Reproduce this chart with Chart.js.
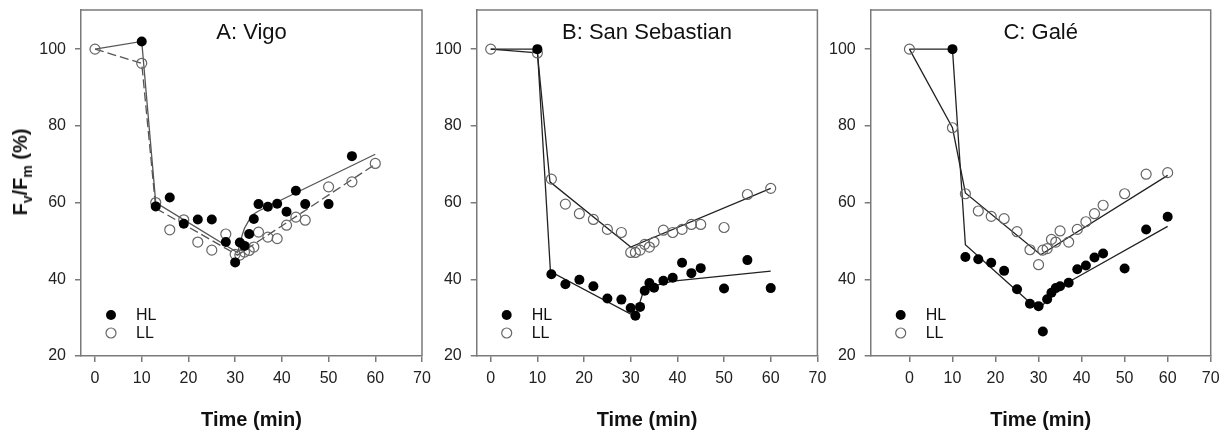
<!DOCTYPE html>
<html>
<head>
<meta charset="utf-8">
<title>Fv/Fm time course</title>
<script src="https://cdn.jsdelivr.net/npm/chart.js@4.4.0/dist/chart.umd.min.js"></script>
<style>
body { margin: 0; background: #fff; width: 1226px; height: 437px; position: relative; overflow: hidden; font-family: "Liberation Sans", Arial, sans-serif; }
canvas { position: absolute; top: 0; }
#ytitle { position: absolute; left: 22px; top: 172px; transform: translate(-50%, -50%) rotate(-90deg); font-weight: bold; font-size: 20px; white-space: nowrap; color: #111; }
#ytitle sub { font-size: 14px; }
</style>
</head>
<body>
<canvas id="chartA" width="440" height="437" style="left:0px"></canvas>
<canvas id="chartB" width="405" height="437" style="left:425px"></canvas>
<canvas id="chartC" width="411" height="437" style="left:815px"></canvas>
<div id="ytitle">F<sub>v</sub>/F<sub>m</sub> (%)</div>
<script>
// sampling times (min), shared by all three sites
var time = [0, 10, 13, 16, 19, 22, 25, 28, 30, 31, 32, 33, 34, 35, 37, 39, 41, 43, 45, 50, 55, 60];

var xTicks = [0, 10, 20, 30, 40, 50, 60, 70];
var yTicks = [20, 40, 60, 80, 100];
var legendLabels = ['HL', 'LL'];

// A: Vigo
var vigoHL = [null, 102, 59, 61.3, 54.5, 55.6, 55.6, 49.7, 44.4, 49.6, 48.7, 51.8, 55.7, 59.6, 58.9, 59.7, 57.6, 63.1, 59.6, 59.6, 72.1, null];
var vigoLL = [100, 96.3, 60, 52.9, 55.5, 49.7, 47.6, 51.8, 46.5, 46.3, 47.1, 47.5, 48.4, 52.3, 51, 50.6, 54.1, 56.2, 55.4, 64.1, 65.4, 70.2];
var vigoFitTimeHL = [0, 10, 13, 30.5, 31, 31.5, 32, 33, 34, 35, 60];
var vigoFitHL = [100, 102, 60, 47, 49, 51.5, 53.3, 55.5, 57, 57.8, 72.6];
var vigoFitTimeLL = [0, 10, 13, 30.5, 60];
var vigoFitLL = [100, 96.3, 58.5, 46.3, 70];

// B: San Sebastian
var sebHL = [null, 100, 41.3, 38.7, 39.9, 38.2, 35, 34.7, 32.5, 30.5, 32.8, 37, 39, 37.8, 39.6, 40.4, 44.3, 41.6, 42.9, 37.6, 45, 37.7];
var sebLL = [100, 99, 66.1, 59.6, 57.1, 55.6, 53, 52.2, 47, 47, 47.6, 49.1, 48.4, 49.7, 52.8, 52.2, 53, 54.3, 54.3, 53.5, 62.1, 63.7];
var sebFitTimeHL = [0, 10, 12.8, 31, 32.5, 35, 39, 60];
var sebFitHL = [100, 100, 42, 30.3, 36, 38.3, 39.5, 42.1];
var sebFitTimeLL = [0, 10, 12.7, 30, 60];
var sebFitLL = [100, 99, 65.4, 48.4, 63.7];

// C: Gale
var galeHL = [null, 100, 45.8, 45.2, 44.3, 42.2, 37.4, 33.6, 33, 26.4, 34.8, 36.5, 37.7, 38.2, 39.1, 42.6, 43.6, 45.7, 46.7, 42.8, 53, 56.3];
var galeLL = [100, 79.5, 62.3, 57.8, 56.4, 55.8, 52.4, 47.7, 43.8, 47.6, 48, 50.4, 49.7, 52.6, 49.7, 53, 55, 57.1, 59.3, 62.3, 67.4, 67.8];
var galeFitTimeHL = [0, 10, 13, 30, 33, 35, 37, 60];
var galeFitHL = [100, 100, 49, 31.9, 36, 38, 39.3, 53.8];
var galeFitTimeLL = [0, 10, 13, 30.5, 60];
var galeFitLL = [100, 79.5, 62.5, 46.4, 67.1];

var FONT = '"Liberation Sans", Arial, sans-serif';
Chart.defaults.font.family = FONT;
Chart.defaults.color = '#222';

function pairs(xs, ys) {
    var out = [];
    for (var i in xs) {
        out.push({x: xs[i], y: ys[i]});
    }
    return out;
}

// frame on top/right, panel title and the little HL/LL key
var panelDecor = {
    id: 'panelDecor',
    afterDraw: function(chart, args, opts) {
        var ctx = chart.ctx;
        var a = chart.chartArea;
        ctx.save();
        ctx.strokeStyle = '#7a7a7a';
        ctx.lineWidth = 1.5;
        ctx.beginPath();
        ctx.moveTo(a.left, a.top);
        ctx.lineTo(a.right, a.top);
        ctx.lineTo(a.right, a.bottom);
        ctx.stroke();

        ctx.fillStyle = '#111';
        ctx.font = '22px ' + FONT;
        ctx.textAlign = 'center';
        ctx.textBaseline = 'middle';
        ctx.fillText(opts.title, (a.left + a.right) / 2, 33);

        var lx = a.left + 30;
        var ly = [315, 333];
        ctx.font = '16px ' + FONT;
        ctx.textAlign = 'left';
        for (var i = 0; i < 2; i++) {
            ctx.beginPath();
            ctx.arc(lx, ly[i], 5, 0, Math.PI * 2);
            if (i == 0) {
                ctx.fillStyle = '#000';
                ctx.fill();
            } else {
                ctx.strokeStyle = '#666';
                ctx.lineWidth = 1.2;
                ctx.stroke();
            }
            ctx.fillStyle = '#111';
            ctx.fillText(legendLabels[i], lx + 25, ly[i] + 1);
        }
        ctx.restore();
    }
};

function renderChart(id, title, xmin, yAxisWidth, padRight, hl, ll, fitHL, fitLL, lineColor, dashLL) {
    var ctx = document.getElementById(id);
    return new Chart(ctx, {
        type: 'scatter',
        data: {
            datasets: [{
                label: 'HL',
                data: pairs(time, hl),
                pointRadius: 5,
                pointBackgroundColor: '#000',
                pointBorderColor: '#000',
                pointBorderWidth: 0
            }, {
                label: 'LL',
                data: pairs(time, ll),
                pointRadius: 5,
                pointBackgroundColor: 'rgba(255,255,255,0)',
                pointBorderColor: '#666',
                pointBorderWidth: 1.2
            }, {
                label: 'HL fit',
                data: fitHL,
                showLine: true,
                pointRadius: 0,
                borderColor: lineColor,
                borderWidth: 1.3
            }, {
                label: 'LL fit',
                data: fitLL,
                showLine: true,
                pointRadius: 0,
                borderColor: lineColor,
                borderWidth: 1.3,
                borderDash: dashLL ? [9, 4] : []
            }]
        },
        options: {
            responsive: false,
            animation: false,
            layout: { padding: { top: 10, right: padRight, left: 0, bottom: 0 } },
            plugins: {
                legend: { display: false },
                tooltip: { enabled: false },
                panelDecor: { title: title }
            },
            scales: {
                x: {
                    type: 'linear',
                    min: xmin,
                    max: 70,
                    afterBuildTicks: function(s) { s.ticks = xTicks.map(function(v) { return {value: v}; }); },
                    afterFit: function(s) { s.height = 81; s.paddingLeft = 0; s.paddingRight = 0; },
                    grid: { drawOnChartArea: false, tickLength: 6, color: '#7a7a7a', lineWidth: 1.5 },
                    border: { color: '#7a7a7a', width: 1.5 },
                    ticks: { font: { size: 16 }, color: '#222', padding: 7, maxRotation: 0 },
                    title: { display: true, text: 'Time (min)', font: { size: 20, weight: 'bold' }, color: '#111', padding: { top: 0, bottom: 5 } }
                },
                y: {
                    min: 20,
                    max: 110.2,
                    afterBuildTicks: function(s) { s.ticks = yTicks.map(function(v) { return {value: v}; }); },
                    afterFit: function(s) { s.width = yAxisWidth; s.paddingTop = 0; s.paddingBottom = 0; },
                    grid: { drawOnChartArea: false, tickLength: 6, color: '#7a7a7a', lineWidth: 1.5 },
                    border: { color: '#7a7a7a', width: 1.5 },
                    ticks: { font: { size: 16 }, color: '#222', padding: 9 }
                }
            }
        },
        plugins: [panelDecor]
    });
}

renderChart('chartA', 'A: Vigo', -3, 81, 18, vigoHL, vigoLL,
    pairs(vigoFitTimeHL, vigoFitHL), pairs(vigoFitTimeLL, vigoFitLL), '#555', true);
renderChart('chartB', 'B: San Sebastian', -3, 51.7, 12.6, sebHL, sebLL,
    pairs(sebFitTimeHL, sebFitHL), pairs(sebFitTimeLL, sebFitLL), '#222', false);
renderChart('chartC', 'C: Galé', -9, 55.7, 15.3, galeHL, galeLL,
    pairs(galeFitTimeHL, galeFitHL), pairs(galeFitTimeLL, galeFitLL), '#222', false);
</script>
</body>
</html>
